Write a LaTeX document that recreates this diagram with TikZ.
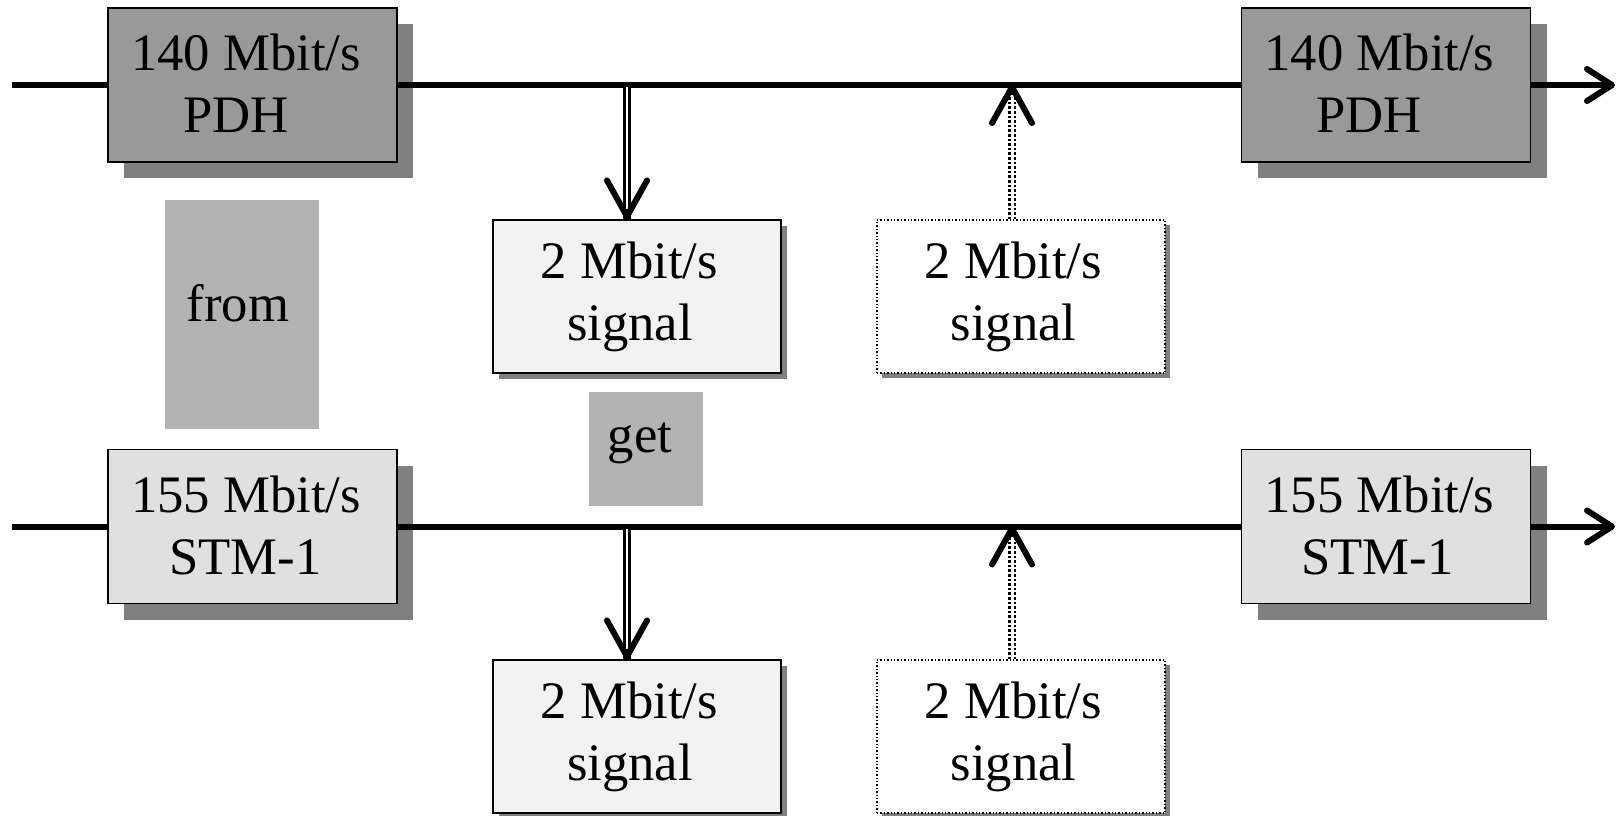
\documentclass[tikz,border=0pt]{standalone}
\usepackage{fontspec}
\setmainfont{Liberation Serif}
\usetikzlibrary{arrows.meta,shadows}
\definecolor{pdhgray}{RGB}{153,153,153}
\definecolor{shgray}{RGB}{128,128,128}
\definecolor{stmgray}{RGB}{224,224,224}
\definecolor{sigfill}{RGB}{242,242,242}
\definecolor{labgray}{RGB}{179,179,179}
\newcommand\rpad[1]{\hspace*{#1pt}}
\begin{document}
\begin{tikzpicture}[x=1pt,y=-1pt,
  every node/.style={font=\fontsize{52.7}{62}\selectfont, inner sep=0pt, align=center},
  bigbox/.style={draw=black, line width=1.8pt, minimum width=289pt, minimum height=154pt,
    drop shadow={shadow xshift=16pt, shadow yshift=-16pt, fill=shgray, opacity=1}},
  sigbox/.style={draw=black, line width=2.2pt, fill=sigfill, minimum width=288pt, minimum height=153pt,
    drop shadow={shadow xshift=6pt, shadow yshift=-6pt, fill=shgray, opacity=1}},
  dotbox/.style={draw=black, line width=1.4pt, dash pattern=on 1.4pt off 2pt, fill=white,
    minimum width=288pt, minimum height=153pt,
    drop shadow={shadow xshift=5pt, shadow yshift=-5pt, fill=shgray, opacity=1}},
  labbox/.style={fill=labgray},
  mainline/.style={line width=6pt},
  outarrow/.style={mainline, -{Straight Barb[length=25pt,width=32pt,round]}},
  dblshaft/.style={line width=2.5pt, double=white, double distance=2.3pt},
  dotshaft/.style={line width=2.6pt, double=white, double distance=3pt, dash pattern=on 2.6pt off 2pt},
  vhead/.style={line width=6pt, -{Straight Barb[length=36pt,width=40pt,round]}}
]
\useasboundingbox[fill=white] (0,0) rectangle (1621,815);

% labels behind
\node[labbox, minimum width=154pt, minimum height=229pt] (fromBox) at (242,314.5) {};
\node[anchor=base] (fromTxt) at (238,321.5) {from};
\node[labbox, minimum width=114pt, minimum height=114pt] (getBox) at (646,449) {};
\node[anchor=base] (getTxt) at (640,452) {get};

% main boxes
\node[bigbox, fill=pdhgray] (pdhL) at (252.5,85) {\raisebox{3pt}{140 Mbit/s}\rpad{13}\\\raisebox{3pt}{PDH}\rpad{33}};
\node[bigbox, fill=pdhgray] (pdhR) at (1386,85) {\raisebox{3pt}{140 Mbit/s}\rpad{13}\\\raisebox{3pt}{PDH}\rpad{34}};
\node[bigbox, fill=stmgray] (stmL) at (252.5,526.5) {\raisebox{3pt}{155 Mbit/s}\rpad{13}\\\raisebox{3pt}{STM-1}\rpad{14}};
\node[bigbox, fill=stmgray] (stmR) at (1386,526.5) {\raisebox{3pt}{155 Mbit/s}\rpad{13}\\\raisebox{3pt}{STM-1}\rpad{17}};

% 2 Mbit/s boxes
\node[sigbox] (sigA) at (637,296.5) {2 Mbit/s\rpad{15}\\signal\rpad{14}};
\node[dotbox] (sigB) at (1021,296.5) {2 Mbit/s\rpad{15}\\signal\rpad{15}};
\node[sigbox] (sigC) at (637,736.5) {2 Mbit/s\rpad{15}\\signal\rpad{14}};
\node[dotbox] (sigD) at (1021,736.5) {2 Mbit/s\rpad{15}\\signal\rpad{15}};

% line coordinates
\coordinate (inA) at (12,85);
\coordinate (outA) at (1615,85);
\coordinate (inB) at (12,526.5);
\coordinate (outB) at (1615,526.5);
\coordinate (dropA) at (627,85);
\coordinate (addA) at (1012,85);
\coordinate (dropB) at (627,526.5);
\coordinate (addB) at (1012,526.5);

% top line
\draw[mainline] (inA) -- (pdhL.west);
\draw[mainline] (pdhL.east) -- (pdhR.west);
\draw[outarrow] (pdhR.east) -- (outA);
% bottom line
\draw[mainline] (inB) -- (stmL.west);
\draw[mainline] (stmL.east) -- (stmR.west);
\draw[outarrow] (stmR.east) -- (outB);

% drop arrows (double)
\draw[dblshaft] ([yshift=-2pt]dropA) -- (dropA |- sigA.north);
\draw[vhead] ([yshift=10pt]dropA |- sigA.north) -- ([yshift=-0.5pt]dropA |- sigA.north);
\draw[dblshaft] ([yshift=-2pt]dropB) -- (dropB |- sigC.north);
\draw[vhead] ([yshift=10pt]dropB |- sigC.north) -- ([yshift=-0.5pt]dropB |- sigC.north);

% add arrows (dotted double)
\draw[dotshaft] (addA |- sigB.north) -- ([yshift=-3pt]addA);
\draw[vhead] ([yshift=-10pt]addA) -- ([yshift=1pt]addA);
\draw[dotshaft] (addB |- sigD.north) -- ([yshift=-3pt]addB);
\draw[vhead] ([yshift=-10pt]addB) -- ([yshift=1pt]addB);
\end{tikzpicture}
\end{document}
